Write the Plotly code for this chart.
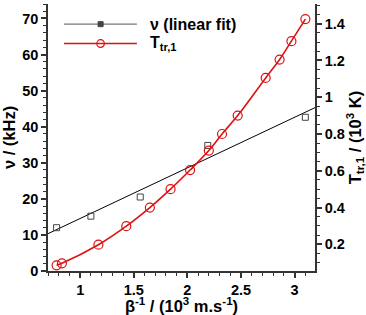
import numpy as np
import plotly.graph_objects as go

# ---- data ----
x_nu = [0.78, 1.10, 1.56, 2.19, 3.10]
nu_khz = [12.0, 15.2, 20.5, 34.8, 42.6]

x_T = [0.78, 0.83, 1.17, 1.43, 1.65, 1.843, 2.025, 2.20, 2.323, 2.469, 2.73, 2.86, 2.97, 3.10]
T_tr1 = [0.086, 0.097, 0.198, 0.299, 0.40, 0.50, 0.604, 0.71, 0.80, 0.90, 1.105, 1.205, 1.305, 1.425]

x_range = [0.7, 3.19]
y_left_range = [0, 74]
y_right_range = [0.055, 1.507]

legend_labels = ["ν (linear fit)", "T<sub>tr,1</sub>"]

# linear fit of nu data
slope, intercept = np.polyfit(x_nu, nu_khz, 1)
fit_x = np.array(x_range)
fit_y = slope * fit_x + intercept

FONT = "Liberation Sans, Arial, Helvetica, sans-serif"
RED = "#dd1111"
GREY = "#777777"

fig = go.Figure()

fig.add_trace(go.Scatter(x=fit_x, y=fit_y, mode="lines",
                         line=dict(color="black", width=1), showlegend=False))
fig.add_trace(go.Scatter(x=x_nu, y=nu_khz, mode="markers",
                         marker=dict(symbol="square-open", size=6, color="#444444",
                                     line=dict(width=1)),
                         showlegend=False))
fig.add_trace(go.Scatter(x=x_T, y=T_tr1, mode="lines+markers", yaxis="y2",
                         line=dict(color=RED, width=1.6, shape="spline"),
                         marker=dict(symbol="circle-open", size=9, color=RED,
                                     line=dict(width=1.2)),
                         showlegend=False))

tickfont = dict(family=FONT, size=14.5, color="black", weight="bold")
titlefont = dict(family=FONT, size=16.5, color="black", weight="bold")

axis_common = dict(showgrid=False, zeroline=False, showline=True, linecolor="#333333",
                   linewidth=1.5, ticks="outside", ticklen=5, tickwidth=1.5,
                   tickcolor="#333333", tickfont=tickfont)

fig.update_layout(
    width=366, height=315,
    margin=dict(l=48, r=51, t=4, b=44),
    paper_bgcolor="white", plot_bgcolor="white",
    showlegend=False,
    xaxis=dict(range=x_range, dtick=0.5, tick0=0,
               minor=dict(dtick=0.1, ticklen=3, ticks="outside", tickcolor="#333333", tickwidth=1),
               title=dict(text="β<sup>-1</sup> / (10<sup>3</sup> m.s<sup>-1</sup>)",
                          font=titlefont, standoff=4),
               automargin=False, **axis_common),
    yaxis=dict(range=y_left_range, dtick=10, tick0=0,
               minor=dict(dtick=2, ticklen=3, ticks="outside", tickcolor="#333333", tickwidth=1),
               title=dict(text="ν / (kHz)", font=titlefont, standoff=8),
               automargin=False, **axis_common),
    yaxis2=dict(range=y_right_range, dtick=0.2, tick0=0, overlaying="y", side="right",
                minor=dict(dtick=0.05, ticklen=3, ticks="outside", tickcolor="#333333", tickwidth=1),
                title=dict(text="T<sub>tr,1</sub> / (10<sup>3</sup> K)", font=titlefont, standoff=4),
                automargin=False, **axis_common),
)

# manual legend (long sample lines like the reference)
leg_x0, leg_x1, leg_mx, leg_tx = 0.06, 0.333, 0.197, 0.375
leg_y = [0.9245, 0.852]
leg_colors = [GREY, RED]
for i, (lab, col, yy) in enumerate(zip(legend_labels, leg_colors, leg_y)):
    fig.add_shape(type="line", xref="paper", yref="paper", x0=leg_x0, x1=leg_x1,
                  y0=yy, y1=yy, line=dict(color=col, width=1.6 if i else 1.4))
    if i == 0:
        fig.add_shape(type="rect", xref="paper", yref="paper", xsizemode="pixel",
                      ysizemode="pixel", xanchor=leg_mx, yanchor=yy,
                      x0=-2.5, x1=2.5, y0=-2.5, y1=2.5,
                      fillcolor="#444444", line=dict(color="#444444", width=1))
    else:
        fig.add_shape(type="circle", xref="paper", yref="paper", xsizemode="pixel",
                      ysizemode="pixel", xanchor=leg_mx, yanchor=yy,
                      x0=-3.8, x1=3.8, y0=-3.8, y1=3.8,
                      fillcolor="rgba(0,0,0,0)", line=dict(color=col, width=1.2))
    fig.add_annotation(xref="paper", yref="paper", x=leg_tx, y=yy, text=lab,
                       showarrow=False, xanchor="left", yanchor="middle",
                       font=dict(family=FONT, size=16, color="black", weight="bold"))

fig.write_html("out.html", config={"displayModeBar": False},
               post_script="document.body.style.margin='0';document.body.style.padding='0';")
